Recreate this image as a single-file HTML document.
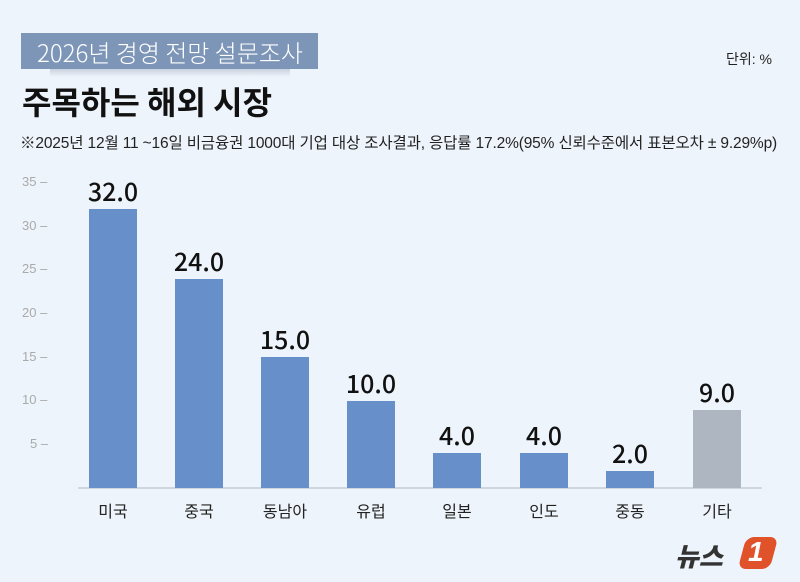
<!DOCTYPE html>
<html><head><meta charset="utf-8"><style>
body{margin:0;width:800px;height:582px;background:#eef4fb;overflow:hidden;font-family:"Liberation Sans","Noto Sans CJK KR",sans-serif;position:relative}
.t{position:absolute;white-space:nowrap}
.bar{position:absolute;width:48px;background:#6790cb}
.v{position:absolute;width:80px;text-align:center;font-size:25px;color:#111;font-family:"Noto Sans CJK KR",sans-serif;font-weight:500}
.c{position:absolute;width:80px;text-align:center;font-size:16px;color:#222;top:498px}
.y{position:absolute;left:22px;font-size:13px;color:#aaa}
</style></head><body>
<div style="position:absolute;left:21px;top:33px;width:297px;height:36px;background:#7d96b8"></div>
<div style="position:absolute;left:50px;top:69px;width:240px;height:8px;background:linear-gradient(#c8d2de,#eef4fb)"></div>
<div class="t" style="left:37px;top:34px;font-size:24px;color:#fff;font-family:'Noto Sans CJK KR',sans-serif;font-weight:300">2026년 경영 전망 설문조사</div>
<div class="t" style="left:726px;top:49px;font-size:14px;color:#222">단위: %</div>
<div class="t" style="left:22px;top:78px;font-size:32px;color:#111;font-family:'Noto Sans CJK KR',sans-serif;font-weight:700">주목하는 해외 시장</div>
<div class="t" style="left:20px;top:131px;font-size:15.5px;color:#222;letter-spacing:-0.15px">※2025년 12월 11 ~16일 비금융권 1000대 기업 대상 조사결과, 응답률 17.2%(95% 신뢰수준에서 표본오차 ± 9.29%p)</div>
<div class="y" style="top:174px">35 –</div>
<div class="y" style="top:218px">30 –</div>
<div class="y" style="top:261px">25 –</div>
<div class="y" style="top:305px">20 –</div>
<div class="y" style="top:349px">15 –</div>
<div class="y" style="top:392px">10 –</div>
<div class="y" style="top:436px;left:30px">5 –</div>
<div style="position:absolute;left:78px;top:487px;width:684px;height:2px;background:#d0d6de"></div>
<div class="bar" style="left:89px;top:209px;height:279px"></div>
<div class="bar" style="left:175px;top:279px;height:209px"></div>
<div class="bar" style="left:261px;top:357px;height:131px"></div>
<div class="bar" style="left:347px;top:401px;height:87px"></div>
<div class="bar" style="left:433px;top:453px;height:35px"></div>
<div class="bar" style="left:520px;top:453px;height:35px"></div>
<div class="bar" style="left:606px;top:471px;height:17px"></div>
<div class="bar" style="left:693px;top:410px;height:78px;background:#aeb6c2"></div>
<div class="v" style="left:73px;top:173px">32.0</div>
<div class="v" style="left:159px;top:243px">24.0</div>
<div class="v" style="left:245px;top:321px">15.0</div>
<div class="v" style="left:331px;top:365px">10.0</div>
<div class="v" style="left:417px;top:417px">4.0</div>
<div class="v" style="left:504px;top:417px">4.0</div>
<div class="v" style="left:590px;top:435px">2.0</div>
<div class="v" style="left:677px;top:374px">9.0</div>
<div class="c" style="left:73px">미국</div>
<div class="c" style="left:159px">중국</div>
<div class="c" style="left:245px">동남아</div>
<div class="c" style="left:331px">유럽</div>
<div class="c" style="left:417px">일본</div>
<div class="c" style="left:504px">인도</div>
<div class="c" style="left:590px">중동</div>
<div class="c" style="left:677px">기타</div>
<div class="t" style="left:675px;top:537px;font-size:26px;font-weight:900;font-style:italic;color:#333;font-family:'Noto Sans CJK KR',sans-serif">뉴스</div>
<div style="position:absolute;left:742px;top:537px;width:32px;height:32px;background:#e0522a;border-radius:8px;transform:skewX(-15deg)"></div>
<div class="t" style="left:748px;top:536px;font-size:28px;font-weight:900;font-style:italic;color:#fff">1</div>
</body></html>
